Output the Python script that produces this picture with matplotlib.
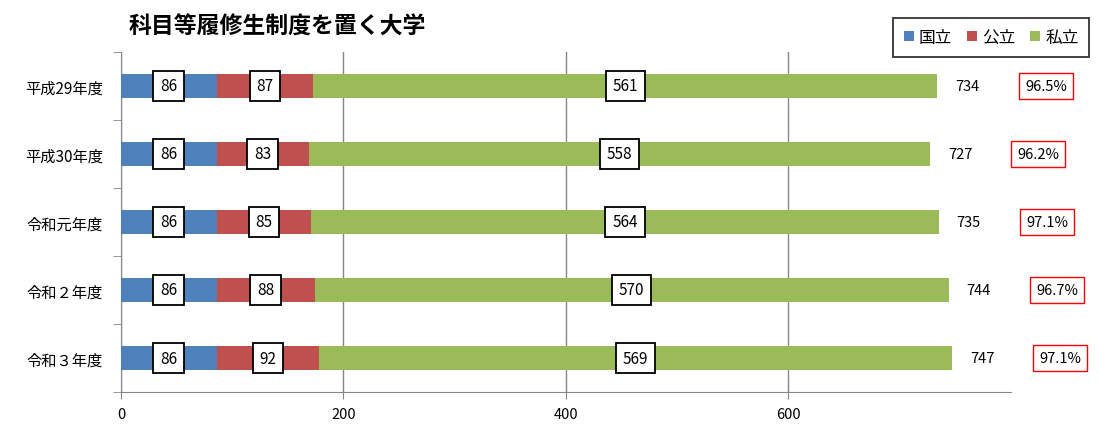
import matplotlib
matplotlib.use("Agg")
import matplotlib.pyplot as plt
import numpy as np

plt.rcParams['font.family'] = ['Noto Sans CJK JP', 'DejaVu Sans']

categories = ["平成29年度", "平成30年度", "令和元年度", "令和２年度", "令和３年度"]
national = [86, 86, 86, 86, 86]
public = [87, 83, 85, 88, 92]
private = [561, 558, 564, 570, 569]
totals = [734, 727, 735, 744, 747]
percents = ["96.5%", "96.2%", "97.1%", "96.7%", "97.1%"]
series_names = ["国立", "公立", "私立"]
colors = ["#4F81BD", "#C0504D", "#9BBB59"]
title = "科目等履修生制度を置く大学"

fig = plt.figure(figsize=(11, 4.27), dpi=100)
ax = fig.add_axes([0.11, 0.0796, 0.809, 0.7964])

y = np.arange(len(categories))
left = np.zeros(len(categories))
for vals, name, col in zip([national, public, private], series_names, colors):
    ax.barh(y, vals, left=left, height=0.36, color=col, label=name, zorder=3)
    for yi, l, v in zip(y, left, vals):
        ax.text(l + v / 2, yi, str(v), ha='center', va='center', fontsize=11,
                zorder=5,
                bbox=dict(boxstyle='square,pad=0.45', fc='white', ec='black', lw=1.3))
    left = left + np.array(vals)

for yi, t, p in zip(y, totals, percents):
    ax.annotate(str(t), xy=(t, yi), xytext=(13, 0), textcoords='offset points',
                ha='left', va='center', fontsize=10.5, annotation_clip=False)
    ax.annotate(p, xy=(t, yi), xytext=(78, 0), textcoords='offset points',
                ha='center', va='center', fontsize=10.5, annotation_clip=False,
                bbox=dict(boxstyle='square,pad=0.4', fc='white', ec='#FF0000', lw=1.0))

ax.set_xlim(0, 800)
ax.set_ylim(len(categories) - 0.5, -0.5)
ax.set_xticks([0, 200, 400, 600])
ax.set_yticks(y)
ax.set_yticklabels(categories, fontsize=11)
ax.set_yticks(np.arange(-0.5, len(categories), 1), minor=True)
ax.tick_params(axis='y', which='major', length=0, pad=13)
ax.tick_params(axis='y', which='minor', length=6, color='#868686', direction='out')
ax.tick_params(axis='x', which='major', length=5, color='#868686', labelsize=10.5, direction='out', pad=6)
ax.grid(axis='x', color='#868686', lw=1.0, zorder=0)
for s in ['top', 'right']:
    ax.spines[s].set_visible(False)
ax.spines['left'].set_color('#868686')
ax.spines['bottom'].set_color('#868686')

fig.text(0.252, 0.937, title, ha='center', va='center', fontsize=16.5, fontweight='bold')

leg = fig.legend(loc='upper right', bbox_to_anchor=(0.998, 0.975), ncol=3,
                 fontsize=12, frameon=True, fancybox=False, edgecolor='black',
                 handlelength=0.6, handleheight=0.6, handletextpad=0.3,
                 columnspacing=0.9, borderpad=0.65)
leg.get_frame().set_linewidth(1.3)

fig.savefig("out.png", dpi=100)
